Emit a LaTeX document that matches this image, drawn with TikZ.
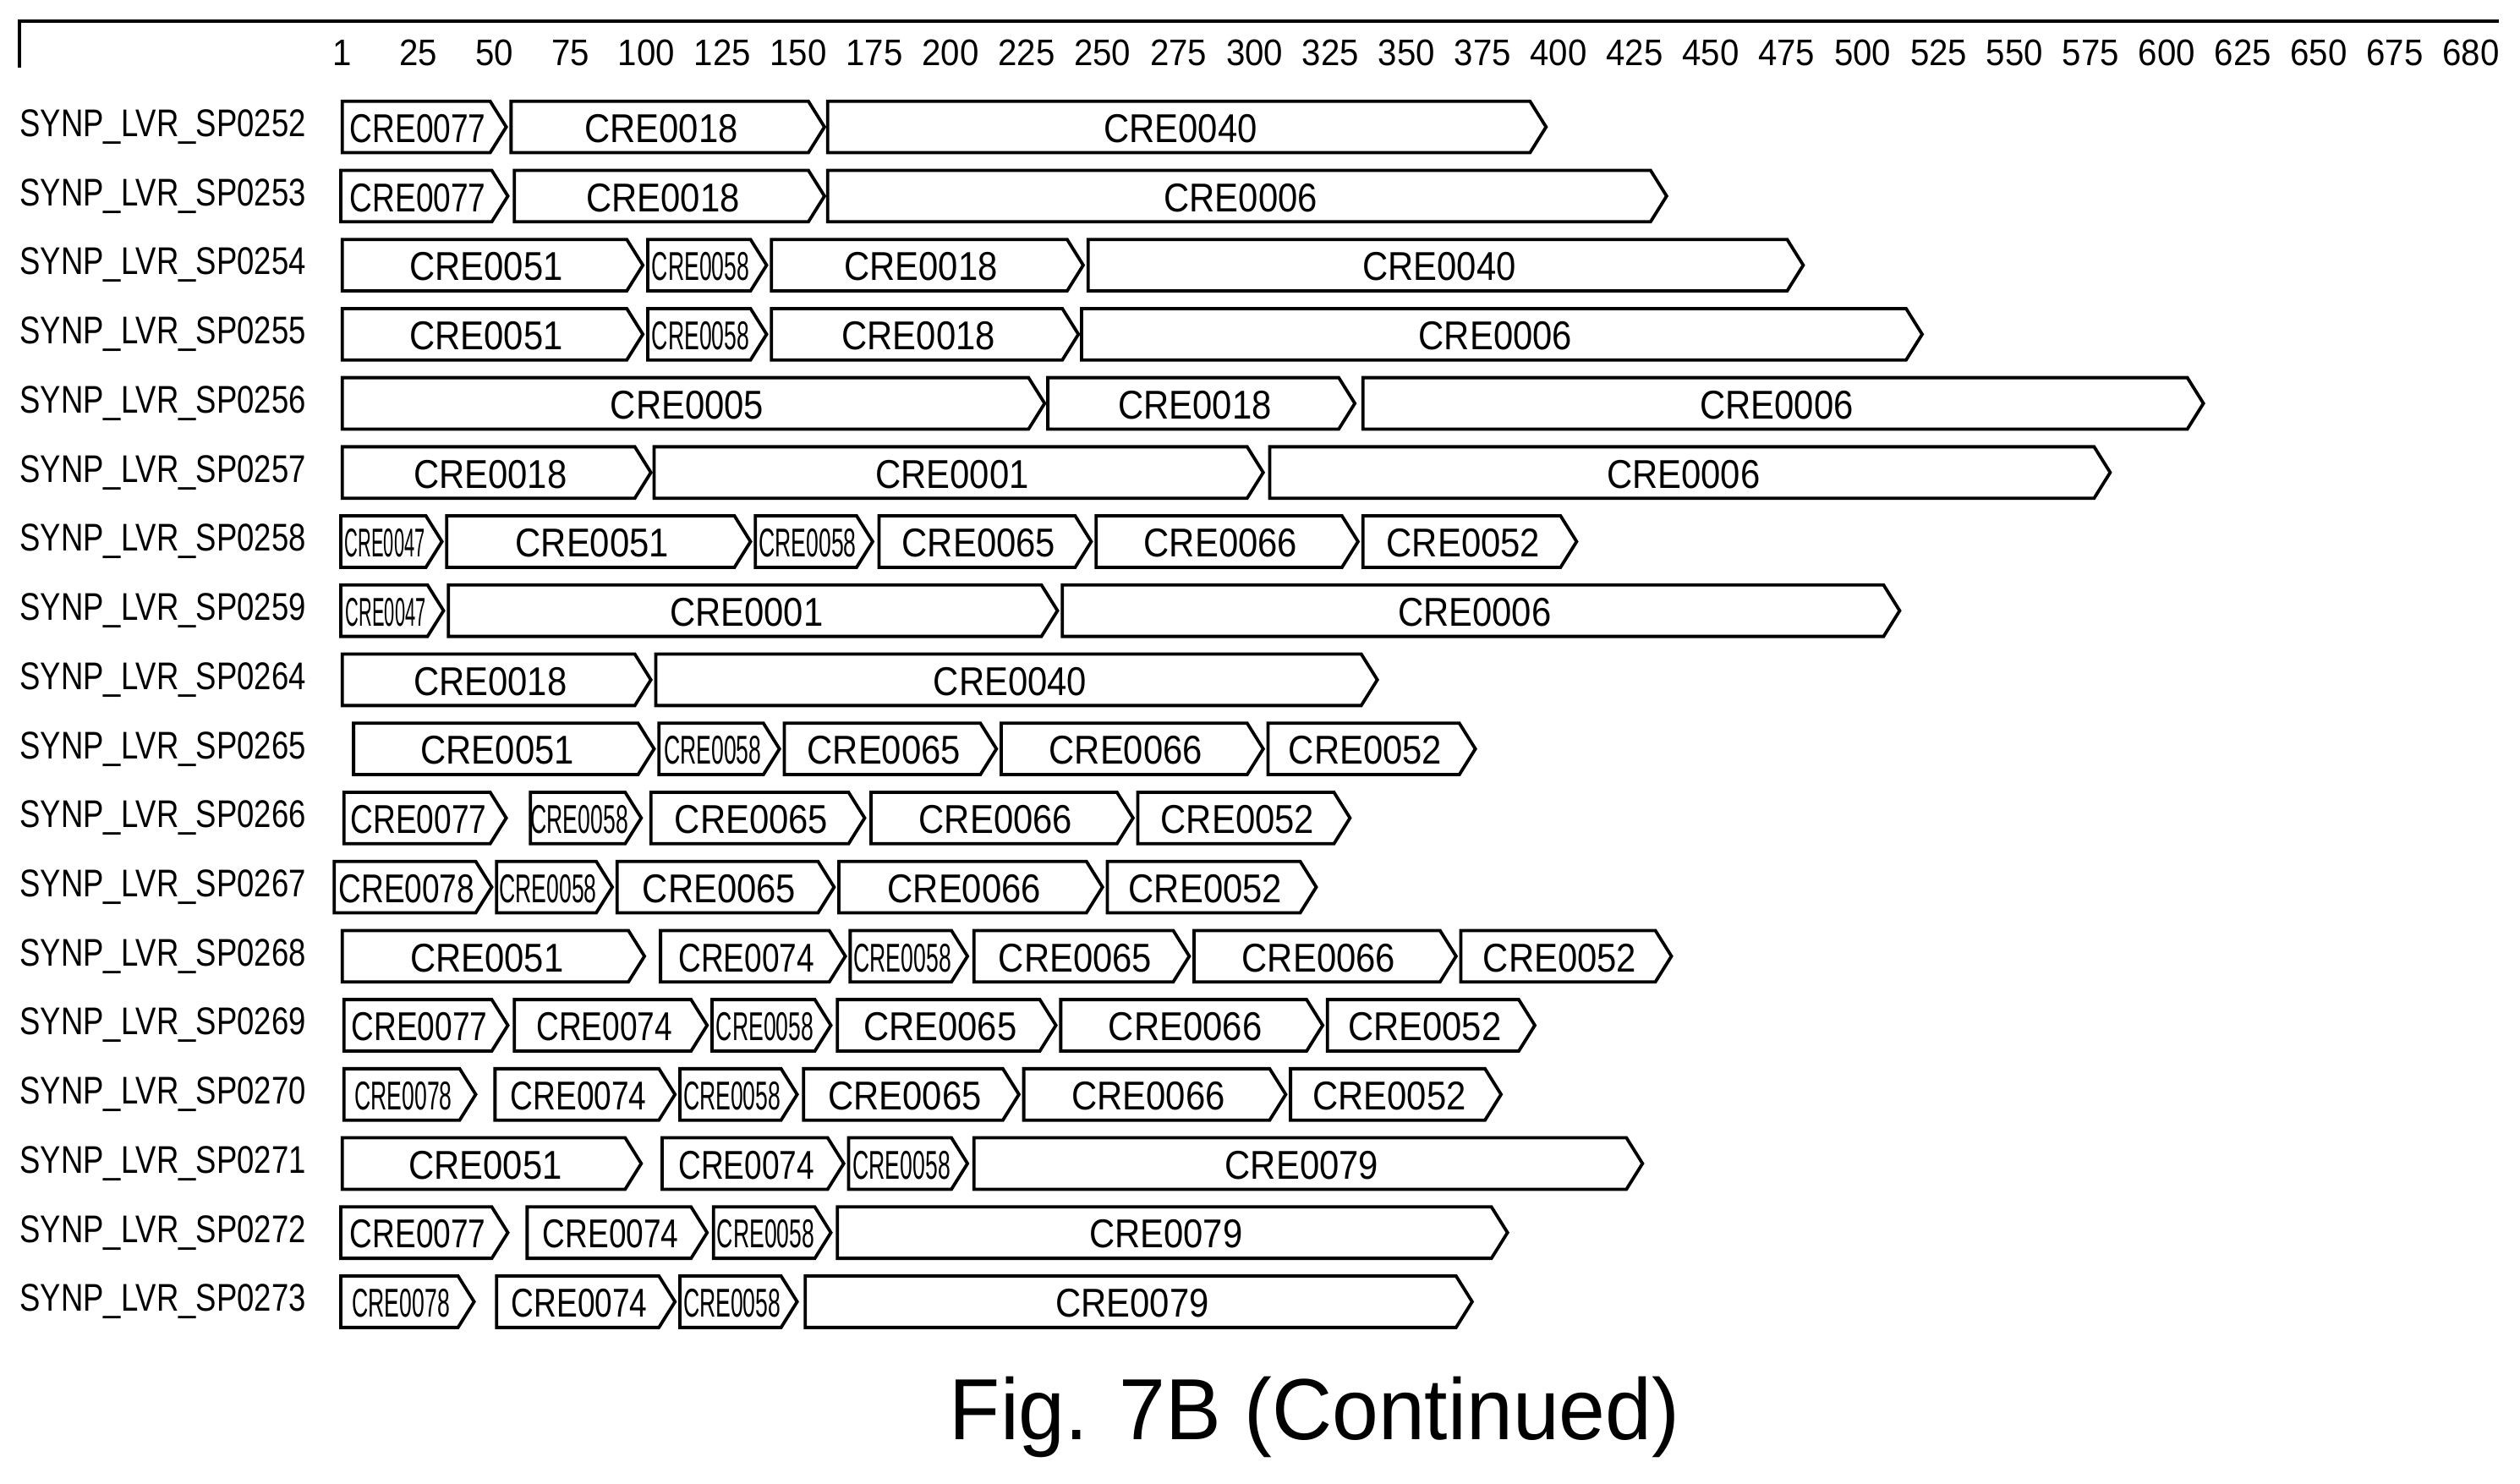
\documentclass[tikz,border=0pt]{standalone}
\usepackage{fontspec}
\setmainfont{Liberation Sans}
\begin{document}
\begin{tikzpicture}[x=0.5pt,y=-0.5pt,
  box/.style={draw,line width=1pt,fill=white},
  lab/.style={font=\fontsize{12.5}{14}\selectfont,inner sep=0pt},
  rowlab/.style={font=\fontsize{12}{14}\selectfont,anchor=west,inner sep=0pt},
  tick/.style={font=\fontsize{11.5}{13}\selectfont,inner sep=0pt}]
\useasboundingbox (0,0) rectangle (1568,923);
\draw[line width=1pt] (12,42) -- (12,13) coordinate (a0) -- (1555,13) coordinate (a1);
\foreach \t [count=\i from 0] in {1,25,50,75,100,125,150,175,200,225,250,275,300,325,350,375,400,425,450,475,500,525,550,575,600,625,650,675,680}
  \node[tick] (t\i) at ({213+47.3*\i},33) {\scalebox{0.92}[1]{\t}};
\newcommand{\bx}[5]{% y, x1, x2, label, small
  \draw[box] (#2,#1-16)--(#3-10,#1-16)--(#3,#1)--(#3-10,#1+16)--(#2,#1+16)--cycle;
  \node[lab] at ({(#2+#3-8)/2},#1+1) {\ifnum#5=1 \scalebox{0.56}[1]{#4}\else\ifnum#5=2 \scalebox{0.46}[1]{#4}\else\ifnum#5=3 \scalebox{0.78}[1]{#4}\else \scalebox{0.88}[1]{#4}\fi\fi\fi};}
\foreach \y/\n/\L in {79/0252/{213/315/CRE0077/3,318/513/CRE0018/0,515/962/CRE0040/0},
 122/0253/{212/316/CRE0077/3,320/513/CRE0018/0,515/1037/CRE0006/0},
 165/0254/{213/400/CRE0051/0,403/477/CRE0058/1,480/674/CRE0018/0,677/1122/CRE0040/0},
 208/0255/{213/400/CRE0051/0,403/477/CRE0058/1,480/671/CRE0018/0,673/1196/CRE0006/0},
 251/0256/{213/650/CRE0005/0,652/843/CRE0018/0,848/1371/CRE0006/0},
 294/0257/{213/405/CRE0018/0,407/786/CRE0001/0,790/1313/CRE0006/0},
 337/0258/{212/275/CRE0047/2,278/467/CRE0051/0,470/543/CRE0058/1,547/679/CRE0065/0,682/845/CRE0066/0,848/981/CRE0052/0},
 380/0259/{212/276/CRE0047/2,279/658/CRE0001/0,661/1182/CRE0006/0},
 423/0264/{213/405/CRE0018/0,408/857/CRE0040/0},
 466/0265/{220/407/CRE0051/0,410/485/CRE0058/1,488/620/CRE0065/0,623/786/CRE0066/0,789/918/CRE0052/0},
 509/0266/{214/315/CRE0077/3,330/399/CRE0058/1,405/538/CRE0065/0,542/705/CRE0066/0,708/840/CRE0052/0},
 552/0267/{208/306/CRE0078/3,309/381/CRE0058/1,384/519/CRE0065/0,522/686/CRE0066/0,689/819/CRE0052/0},
 595/0268/{213/401/CRE0051/0,411/526/CRE0074/3,529/602/CRE0058/1,606/740/CRE0065/0,743/906/CRE0066/0,909/1040/CRE0052/0},
 638/0269/{214/316/CRE0077/3,320/440/CRE0074/3,443/517/CRE0058/1,521/657/CRE0065/0,660/823/CRE0066/0,826/955/CRE0052/0},
 681/0270/{214/296/CRE0078/1,308/420/CRE0074/3,423/496/CRE0058/1,500/634/CRE0065/0,637/800/CRE0066/0,803/934/CRE0052/0},
 724/0271/{213/399/CRE0051/0,412/525/CRE0074/3,528/602/CRE0058/1,606/1022/CRE0079/0},
 767/0272/{212/316/CRE0077/3,328/440/CRE0074/3,444/517/CRE0058/1,521/938/CRE0079/0},
 810/0273/{212/295/CRE0078/1,309/420/CRE0074/3,423/496/CRE0058/1,501/916/CRE0079/0}}
{
  \node[rowlab] (r\n) at (12,\y) {\scalebox{0.8}[1]{SYNP\_LVR\_SP\n}};
  \foreach \a/\b/\c/\s in \L { \bx{\y}{\a}{\b}{\c}{\s} }
}
\node[font=\fontsize{27}{30}\selectfont,inner sep=0pt] (cap) at (818,882) {\scalebox{0.96}[1]{Fig. 7B (Continued)}};
\end{tikzpicture}
\end{document}
